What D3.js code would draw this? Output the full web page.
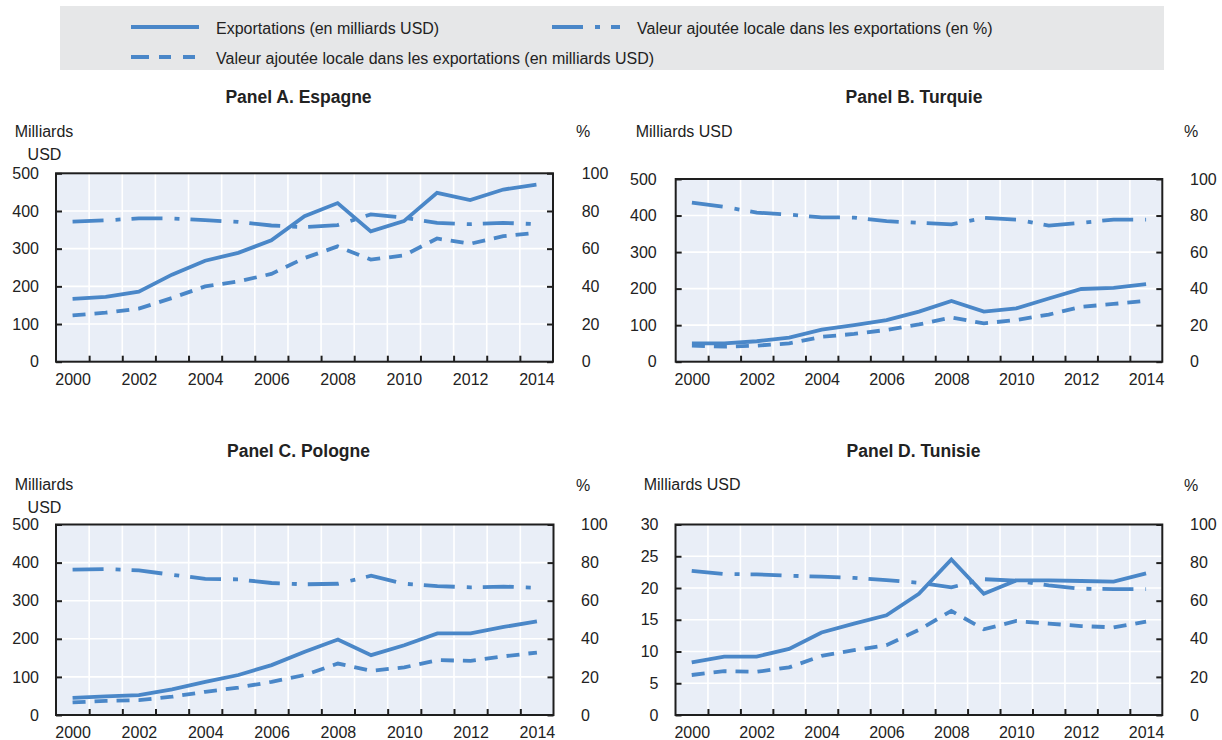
<!DOCTYPE html>
<html>
<head>
<meta charset="utf-8">
<script src="https://cdn.jsdelivr.net/npm/d3@7"></script>
<style>
  html, body { margin: 0; padding: 0; background: #ffffff; }
  svg { display: block; font-family: "Liberation Sans", Arial, Helvetica, sans-serif; }
</style>
</head>
<body>
<svg id="chart" width="1222" height="740"></svg>
<script>
// ---------------- DATA ----------------
const years = [2000, 2001, 2002, 2003, 2004, 2005, 2006, 2007, 2008, 2009, 2010, 2011, 2012, 2013, 2014];
const yearLabels = [2000, 2002, 2004, 2006, 2008, 2010, 2012, 2014];

const legendLabels = [
  "Exportations (en milliards USD)",
  "Valeur ajoutée locale dans les exportations (en %)",
  "Valeur ajoutée locale dans les exportations (en milliards USD)"
];
const panelTitles = ["Panel A. Espagne", "Panel B. Turquie", "Panel C. Pologne", "Panel D. Tunisie"];

const ticksUSD500 = [0, 100, 200, 300, 400, 500];
const ticksUSD30 = [0, 5, 10, 15, 20, 25, 30];
const ticksPct = [0, 20, 40, 60, 80, 100];

// Espagne
const espExports = [167, 172, 186, 231, 268, 289, 322, 386, 421, 346, 373, 448, 429, 457, 470];
const espVA      = [123, 130, 141, 169, 200, 213, 233, 275, 306, 271, 282, 327, 313, 333, 342];
const espPct     = [74.4, 75.0, 76.1, 76.0, 75.1, 74.2, 72.3, 71.4, 72.5, 78.2, 76.4, 73.7, 73.0, 73.7, 73.0];
// Turquie
const turExports = [50, 50, 56, 66, 88, 100, 114, 137, 166, 137, 146, 173, 199, 202, 212];
const turVA      = [44, 41, 44, 50, 68, 76, 87, 102, 121, 105, 114, 129, 150, 158, 167];
const turPct     = [87.1, 84.7, 81.6, 80.5, 79.0, 78.9, 76.9, 76.0, 75.2, 78.7, 77.8, 74.5, 76.0, 77.8, 77.8];
// Pologne
const polExports = [45, 49, 52, 67, 87, 105, 131, 166, 198, 157, 183, 214, 214, 231, 246];
const polVA      = [33, 37, 39, 48, 61, 72, 87, 105, 135, 116, 125, 144, 142, 154, 164];
const polPct     = [76.3, 76.6, 75.9, 73.6, 71.5, 71.2, 69.3, 68.6, 68.9, 73.1, 68.9, 67.7, 67.0, 67.4, 66.8];
// Tunisie
const tunExports = [8.3, 9.2, 9.2, 10.4, 13.0, 14.4, 15.7, 19.1, 24.5, 19.1, 21.2, 21.2, 21.1, 21.0, 22.3];
const tunVA      = [6.3, 6.9, 6.8, 7.5, 9.3, 10.2, 11.0, 13.4, 16.4, 13.5, 14.8, 14.4, 14.0, 13.8, 14.7];
const tunPct     = [75.7, 74.0, 73.8, 73.1, 72.6, 72.0, 70.8, 69.4, 67.0, 71.3, 70.5, 68.0, 66.3, 66.1, 66.1];

// ---------------- STYLE ----------------
const BLUE = "#4a87c8";
const PLOT_BG = "#e9eef7";
const TEXT = "#222222";
const FRAME = "#1e1e1e";
const LW = 3.8;
const DASH = "13,9";
const DASHDOT = "31,12,5,11";
const FS = 16;

const svg = d3.select("#chart");

// ---------------- LEGEND ----------------
svg.append("rect").attr("x", 60).attr("y", 6).attr("width", 1104).attr("height", 64).attr("fill", "#e6e7e8");
const legendItems = [
  {label: legendLabels[0], dash: null, x: 131, y: 27},
  {label: legendLabels[1], dash: DASHDOT, x: 552, y: 27},
  {label: legendLabels[2], dash: "18,10,12,12,12", x: 131, y: 57}
];
legendItems.forEach(it => {
  svg.append("line").attr("x1", it.x).attr("x2", it.x + 68).attr("y1", it.y).attr("y2", it.y)
    .attr("stroke", BLUE).attr("stroke-width", 4).attr("stroke-dasharray", it.dash);
  svg.append("text").attr("x", it.x + 85).attr("y", it.y + 1.5).attr("dy", "0.35em")
    .attr("font-size", FS).attr("fill", TEXT).text(it.label);
});

// ---------------- PANELS ----------------
const panels = [
  {title: panelTitles[0], exp: espExports, va: espVA, pct: espPct, ticks: ticksUSD500,
   x0: 56, x1: 553, y0: 173.3, y1: 361.7, tx: 298.5, ty: 96.7,
   unit: [{t: "Milliards", x: 44, y: 131.7, a: "middle"}, {t: "USD", x: 44.5, y: 154, a: "middle"}],
   pctX: 583, pctY: 131.7, lpad: 17, rpad: 28.7},
  {title: panelTitles[1], exp: turExports, va: turVA, pct: turPct, ticks: ticksUSD500,
   x0: 675.7, x1: 1162.3, y0: 179, y1: 361.7, tx: 914, ty: 96.7,
   unit: [{t: "Milliards USD", x: 635.7, y: 131.7, a: "start"}],
   pctX: 1191, pctY: 131.7, lpad: 19, rpad: 27.7},
  {title: panelTitles[2], exp: polExports, va: polVA, pct: polPct, ticks: ticksUSD500,
   x0: 56, x1: 553.5, y0: 524.5, y1: 715, tx: 298.5, ty: 450.7,
   unit: [{t: "Milliards", x: 44, y: 484, a: "middle"}, {t: "USD", x: 44.5, y: 507.3, a: "middle"}],
   pctX: 583, pctY: 485, lpad: 17, rpad: 27.5},
  {title: panelTitles[3], exp: tunExports, va: tunVA, pct: tunPct, ticks: ticksUSD30,
   x0: 675.5, x1: 1162.3, y0: 524.5, y1: 715, tx: 913.5, ty: 450.7,
   unit: [{t: "Milliards USD", x: 643.7, y: 484, a: "start"}],
   pctX: 1191, pctY: 485, lpad: 17, rpad: 27.7}
];

panels.forEach(p => {
  const g = svg.append("g");
  const x = d3.scaleLinear().domain([years[0] - 0.5, years[years.length - 1] + 0.5]).range([p.x0, p.x1]);
  const yL = d3.scaleLinear().domain([0, d3.max(p.ticks)]).range([p.y1, p.y0]);
  const yR = d3.scaleLinear().domain([0, 100]).range([p.y1, p.y0]);

  // title
  g.append("text").attr("x", p.tx).attr("y", p.ty).attr("dy", "0.35em").attr("text-anchor", "middle")
    .attr("font-size", 17.5).attr("font-weight", "bold").attr("fill", TEXT).text(p.title);
  p.unit.forEach(u => {
    g.append("text").attr("x", u.x).attr("y", u.y).attr("dy", "0.35em").attr("text-anchor", u.a)
      .attr("font-size", FS).attr("fill", TEXT).text(u.t);
  });
  g.append("text").attr("x", p.pctX).attr("y", p.pctY).attr("dy", "0.35em").attr("text-anchor", "middle")
    .attr("font-size", FS).attr("fill", TEXT).text("%");

  // background
  g.append("rect").attr("x", p.x0).attr("y", p.y0).attr("width", p.x1 - p.x0).attr("height", p.y1 - p.y0)
    .attr("fill", PLOT_BG);

  // grid lines
  const boundaries = years.slice(1).map(yv => yv - 0.5);
  g.selectAll(".vg").data(boundaries).enter().append("line")
    .attr("x1", d => x(d)).attr("x2", d => x(d)).attr("y1", p.y0).attr("y2", p.y1)
    .attr("stroke", "#ffffff").attr("stroke-width", 1.6);
  g.selectAll(".hg").data(p.ticks.slice(1, -1)).enter().append("line")
    .attr("x1", p.x0).attr("x2", p.x1).attr("y1", d => yL(d)).attr("y2", d => yL(d))
    .attr("stroke", "#ffffff").attr("stroke-width", 1.6);

  // lines
  const lineL = d3.line().x((d, i) => x(years[i])).y(d => yL(d));
  const lineR = d3.line().x((d, i) => x(years[i])).y(d => yR(d));
  const common = sel => sel.attr("fill", "none").attr("stroke", BLUE).attr("stroke-width", LW)
    .attr("stroke-linejoin", "miter").attr("stroke-linecap", "butt");
  g.append("path").datum(p.pct).attr("d", lineR).call(common).attr("stroke-dasharray", DASHDOT);
  g.append("path").datum(p.va).attr("d", lineL).call(common).attr("stroke-dasharray", DASH);
  g.append("path").datum(p.exp).attr("d", lineL).call(common);

  // axes
  const axL = g.append("g").attr("transform", `translate(${p.x0},0)`)
    .call(d3.axisLeft(yL).tickValues(p.ticks).tickSizeInner(-6).tickSizeOuter(0).tickPadding(p.lpad));
  const axR = g.append("g").attr("transform", `translate(${p.x1},0)`)
    .call(d3.axisRight(yR).tickValues(ticksPct).tickSizeInner(-6).tickSizeOuter(0).tickPadding(p.rpad));
  const axBt = g.append("g").attr("transform", `translate(0,${p.y1})`)
    .call(d3.axisBottom(x).tickValues(boundaries).tickSizeInner(-6).tickSizeOuter(0).tickFormat(""));
  const axB = g.append("g").attr("transform", `translate(0,${p.y1})`)
    .call(d3.axisBottom(x).tickValues(yearLabels).tickSize(0).tickPadding(0).tickFormat(d3.format("d")));
  [axL, axR, axBt, axB].forEach(a => {
    a.select(".domain").remove();
    a.selectAll("line").attr("stroke", FRAME).attr("stroke-width", 2);
    a.selectAll("text").attr("font-size", FS).attr("fill", TEXT).attr("font-family", null);
    a.attr("font-family", null);
  });
  axB.selectAll("text").attr("y", 17.5).attr("dy", "0.35em");

  // frame
  g.append("rect").attr("x", p.x0).attr("y", p.y0).attr("width", p.x1 - p.x0).attr("height", p.y1 - p.y0)
    .attr("fill", "none").attr("stroke", FRAME).attr("stroke-width", 2);
});
</script>
</body>
</html>
